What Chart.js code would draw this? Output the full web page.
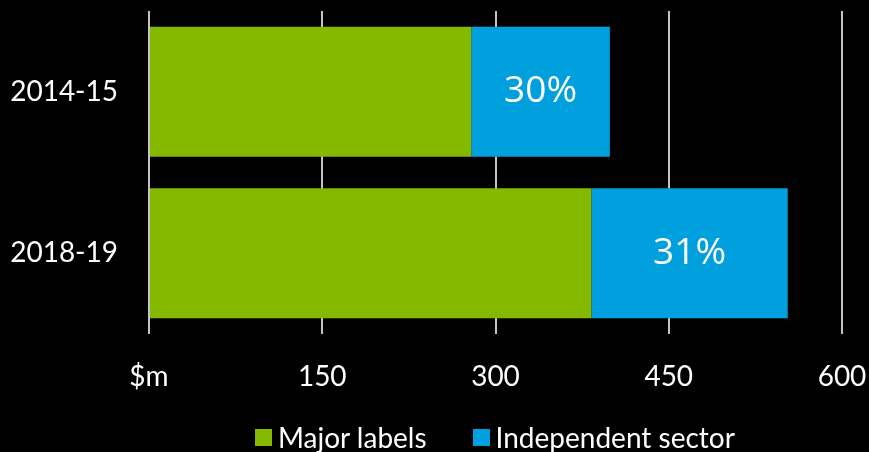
<!DOCTYPE html>
<html>
<head>
<meta charset="utf-8">
<script src="https://cdn.jsdelivr.net/npm/chart.js@4"></script>
<style>
    html, body { margin: 0; padding: 0; background: #000; }
    #wrap { position: relative; width: 869px; height: 452px; }
    #legend {
        position: absolute; left: 255px; top: 420px;
        display: flex; align-items: center;
        font-family: Lato, sans-serif; font-size: 28px; color: #fff; line-height: 34px;
    }
    #legend .item { display: flex; align-items: center; margin-right: 46px; }
    #legend .box { width: 17px; height: 17px; margin-right: 6px; }
</style>
</head>
<body>
<div id="wrap">
    <canvas id="musicChart" width="869" height="452"></canvas>
    <div id="legend"></div>
</div>
<script>
// Recorded music revenue by sector, $m
const years = ['2014-15', '2018-19'];
const majorLabels = [279, 383];
const independentSector = [120, 170];
const seriesNames = ['Major labels', 'Independent sector'];
const seriesColours = ['#84B900', '#00A0DE'];
const xTicks = [0, 150, 300, 450, 600];
const xTickLabels = ['$m', '150', '300', '450', '600'];

// Independent share printed inside the blue bars
function sharePercent(i) {
    let total = majorLabels[i] + independentSector[i];
    return Math.round(independentSector[i] / total * 100) + '%';
}

const shareLabels = {
    id: 'shareLabels',
    afterDatasetsDraw(chart) {
        const ctx = chart.ctx;
        const meta = chart.getDatasetMeta(1);
        ctx.save();
        ctx.fillStyle = '#ffffff';
        ctx.font = '400 37px "Open Sans", sans-serif';
        ctx.textAlign = 'center';
        ctx.textBaseline = 'middle';
        meta.data.forEach((bar, i) => {
            let cx = (bar.x + bar.base) / 2;
            ctx.fillText(sharePercent(i), cx, bar.y);
        });
        ctx.restore();
    }
};

const tickFont = { family: 'Lato, sans-serif', size: 28 };

const musicChart = new Chart(document.getElementById('musicChart'), {
    type: 'bar',
    data: {
        labels: years,
        datasets: [
            { label: seriesNames[0], data: majorLabels, backgroundColor: seriesColours[0] },
            { label: seriesNames[1], data: independentSector, backgroundColor: seriesColours[1] }
        ]
    },
    options: {
        indexAxis: 'y',
        responsive: false,
        animation: false,
        categoryPercentage: 0.805,
        barPercentage: 1,
        layout: { padding: { top: 11, right: 27, bottom: 48, left: 0 } },
        plugins: {
            legend: { display: false },
            tooltip: { enabled: false }
        },
        scales: {
            x: {
                stacked: true,
                min: 0,
                max: 600,
                afterBuildTicks(scale) {
                    scale.ticks = xTicks.map(v => ({ value: v }));
                },
                afterFit(scale) {
                    scale.height = 70;
                    // let the "600" label hang past the plot edge
                    scale.paddingLeft = 0;
                    scale.paddingRight = 0;
                },
                ticks: {
                    color: '#ffffff',
                    font: tickFont,
                    padding: 26,
                    maxRotation: 0,
                    callback: (value, index) => xTickLabels[index]
                },
                grid: { color: '#c4c4c4', lineWidth: 2, drawTicks: false },
                border: { display: false }
            },
            y: {
                stacked: true,
                afterFit(scale) {
                    scale.width = 149;
                    scale.paddingTop = 0;
                    scale.paddingBottom = 0;
                },
                ticks: { color: '#ffffff', font: tickFont, padding: 31 },
                grid: { display: false, drawTicks: false },
                border: { display: false }
            }
        }
    },
    plugins: [shareLabels]
});

// Legend below the axis, built from the datasets
const legend = document.getElementById('legend');
musicChart.data.datasets.forEach(ds => {
    let item = document.createElement('div');
    item.className = 'item';
    let box = document.createElement('span');
    box.className = 'box';
    box.style.background = ds.backgroundColor;
    let text = document.createElement('span');
    text.textContent = ds.label;
    item.appendChild(box);
    item.appendChild(text);
    legend.appendChild(item);
});
</script>
</body>
</html>
